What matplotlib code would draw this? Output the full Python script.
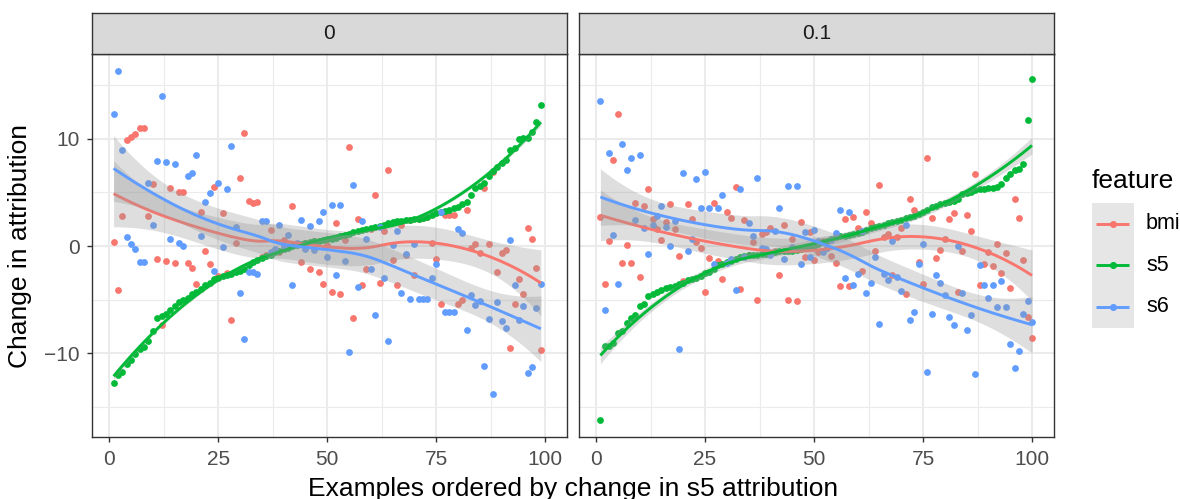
import numpy as np
import matplotlib
matplotlib.use('Agg')
import matplotlib.pyplot as plt

plt.rcParams['font.family'] = ['Liberation Sans', 'DejaVu Sans']

# ---------------- data ----------------
facet_labels = ['0', '0.1']
features = ['bmi', 's5', 's6']
feature_colors = ['#F8766D', '#00BA38', '#619CFF']
x_ticks = [0, 25, 50, 75, 100]
y_ticks = [-10, 0, 10]

x_f0 = np.arange(1, 100)
x_f1 = np.arange(1, 101)

bmi_f0 = [0.4, -4.1, 2.8, 9.9, 10.2, 10.4, 11.0, 11.0, 2.8, 5.8,
          -1.2, -7.4, -1.4, 5.4, -1.6, 5.0, 5.05, -1.6, -2.0, -3.5,
          3.2, -0.5, -1.7, 5.5, -2.8, 3.1, -2.5, -6.9, 0.3, 6.3,
          10.5, 4.2, 4.0, 4.1, -1.0, -0.8, 1.5, -0.4, -0.6, 0.6,
          0.0, 3.75, 0.2, -1.5, 0.3, -2.1, 0.5, -2.4, -3.5, 0.1,
          -4.3, 2.1, -4.5, 0.6, 9.2, -6.7, 2.5, -3.6, -2.1, 1.6,
          4.8, -3.4, 1.4, 7.1, -1.3, -3.6, 2.0, -0.8, 2.4, -2.7,
          2.5, 2.6, 2.7, 0.3, -1.2, -5.4, 2.9, 2.9, 2.9, -5.4,
          -5.0, 3.4, -0.2, 0.15, -0.65, 5.4, 0.2, 6.85, -2.4, -0.65,
          -0.4, -9.5, -5.4, -3.1, -4.5, 1.7, 0.7, -2.0, -9.7]

s5_f0 = [-12.8, -12.0, -11.7, -11.0, -10.6, -10.1, -9.6, -9.4, -8.8, -7.9,
         -6.7, -6.5, -6.3, -6.0, -5.6, -5.2, -5.0, -4.8, -4.5, -4.25,
         -4.0, -3.6, -3.4, -3.1, -3.0, -2.8, -2.7, -2.6, -2.4, -2.3,
         -2.1, -1.8, -1.5, -1.3, -1.1, -0.95, -0.8, -0.6, -0.45, -0.3,
         -0.15, 0.0, 0.1, 0.2, 0.25, 0.35, 0.45, 0.5, 0.55, 0.65,
         0.7, 0.75, 0.9, 1.0, 1.1, 1.3, 1.4, 1.5, 1.6, 1.7,
         1.8, 1.9, 2.0, 2.1, 2.2, 2.3, 2.35, 2.4, 2.45, 2.5,
         2.55, 2.6, 2.75, 2.9, 3.1, 3.2, 3.3, 3.4, 3.5, 3.6,
         3.9, 4.1, 4.8, 5.4, 5.6, 5.85, 6.5, 7.0, 7.4, 7.7,
         8.0, 8.9, 9.1, 10.0, 10.05, 10.1, 10.6, 11.6, 13.1]

s6_f0 = [12.3, 16.3, 8.9, 0.8, 0.2, -0.3, -1.5, -1.5, 5.9, 2.0,
         7.9, 14.0, 7.8, 0.7, 7.6, 0.3, 0.0, 6.5, 6.8, 8.5,
         0.9, 4.1, 4.9, -2.3, 5.9, -0.1, 5.3, 9.3, 1.8, -4.4,
         -8.7, -2.4, -2.4, -2.6, 2.3, 2.3, -0.6, -0.3, 2.0, 0.0,
         1.0, -3.6, 0.3, 2.4, -0.3, 1.9, -0.4, 2.3, 3.2, -1.0,
         3.8, -2.7, 3.8, -1.4, -9.9, 5.7, -3.8, 2.3, 0.7, -2.1,
         -6.4, 1.8, -3.0, -8.8, 0.1, 1.4, -4.4, -0.7, -4.9, 0.2,
         -4.9, -4.9, -4.9, -3.0, -1.7, 3.2, -6.1, -6.1, -6.1, 1.6,
         1.2, -7.8, -4.6, -5.5, -5.1, -11.2, -6.8, -13.8, -5.2, -7.0,
         -7.6, 0.6, -3.6, -6.9, -5.6, -11.8, -11.3, -5.8, -3.5]

bmi_f1 = [2.7, -3.5, 0.5, 8.0, 12.3, -1.6, 0.06, -1.6, 4.0, -2.9,
          3.75, 5.3, 2.5, 1.6, 0.6, 2.2, 3.9, 1.55, -0.9, -3.3,
          3.9, 2.5, 0.4, -0.2, -4.3, -1.15, 4.0, -1.4, -3.1, 3.2,
          2.6, 5.5, -4.0, 2.4, -0.8, 0.35, -5.0, 1.1, 1.35, 1.7,
          -0.5, -2.7, 2.0, -5.0, 0.65, -5.1, 2.2, -1.0, 1.3, -1.3,
          -0.6, 0.5, -0.2, -0.9, -1.6, -3.75, 2.5, -3.75, 2.75, 1.7,
          -2.3, 3.2, 2.1, -0.5, 5.65, 0.8, 1.15, -2.7, 0.8, 1.7,
          -4.5, 4.4, 3.35, -1.45, -3.5, 8.2, 2.6, -1.1, -0.4, 0.65,
          2.5, 3.1, -4.3, -0.5, 2.9, 1.4, 6.7, -3.6, -1.7, -0.6,
          -1.9, 0.15, -2.5, -0.65, -3.9, 4.4, 2.6, -1.3, -6.6, -8.6]

s5_f1 = [-16.2, -9.35, -9.3, -9.05, -8.1, -7.9, -7.2, -6.7, -6.4, -5.55,
         -5.4, -4.7, -4.5, -4.3, -4.1, -3.9, -3.8, -3.7, -3.55, -3.4,
         -3.2, -3.1, -2.95, -2.75, -2.55, -2.4, -2.1, -1.8, -1.65, -1.5,
         -1.35, -1.2, -1.0, -0.9, -0.85, -0.8, -0.8, -0.75, -0.75, -0.7,
         -0.6, -0.5, -0.48, -0.45, -0.42, -0.4, -0.3, -0.2, -0.1, 0.0,
         0.15, 0.35, 0.5, 0.65, 0.8, 0.9, 0.95, 1.05, 1.15, 1.2,
         1.35, 1.5, 1.65, 1.8, 1.9, 2.0, 2.15, 2.25, 2.35, 2.45,
         2.6, 2.7, 2.8, 2.95, 3.2, 3.4, 3.6, 3.75, 3.9, 4.0,
         4.1, 4.2, 4.35, 4.85, 4.9, 5.05, 5.2, 5.3, 5.35, 5.4,
         5.45, 5.5, 5.8, 6.3, 6.75, 7.05, 7.2, 7.6, 11.7, 15.6]

s6_f1 = [13.5, -6.0, 8.7, 1.0, -3.5, 9.5, 7.1, 8.2, 2.4, 8.5,
         1.7, -0.7, 2.0, 2.8, 3.7, 1.8, 0.0, 2.3, -9.6, 6.8,
         -0.5, 0.7, 6.2, 3.5, 6.9, 3.5, -1.7, 3.5, 4.8, -1.6,
         -1.2, -4.1, 5.3, -1.05, 2.1, 0.9, 6.3, -0.2, -0.3, -0.8,
         1.4, 3.5, -1.2, 5.6, -0.1, 5.6, -1.7, 1.3, -1.05, 1.45,
         0.5, -0.6, -0.2, 0.55, 1.2, 3.4, -3.0, 3.2, -3.6, -2.6,
         1.4, -4.4, -3.4, -1.0, -7.3, -2.6, -3.2, 0.5, -2.9, -4.2,
         1.95, -6.9, -6.1, -1.7, 0.2, -11.7, -6.3, -2.7, -3.4, -4.6,
         -6.6, -7.35, 0.0, -4.4, -7.8, -6.45, -11.9, -1.8, -3.6, -4.8,
         -3.6, -5.7, -3.3, -5.7, -9.15, -11.4, -9.8, -6.3, -5.15, -7.1]

panels = [
    (x_f0, [bmi_f0, s5_f0, s6_f0]),
    (x_f1, [bmi_f1, s5_f1, s6_f1]),
]


# ---------------- loess (span 0.75, degree 2) with standard errors ----------------
def loess_fit(x, y, xs, span=0.75):
    x = np.asarray(x, float)
    y = np.asarray(y, float)
    n = len(x)
    q = int(np.floor(n * span))

    def rows(points):
        out = np.zeros((len(points), n))
        for i, x0 in enumerate(points):
            d = np.abs(x - x0)
            h = np.sort(d)[q - 1] * 1.0000001
            w = np.clip(1 - (d / h) ** 3, 0, None) ** 3
            X = np.column_stack([np.ones(n), x - x0, (x - x0) ** 2])
            XtW = X.T * w
            A = XtW @ X
            out[i] = np.linalg.solve(A, XtW)[0]
        return out

    L = rows(x)
    Lp = rows(xs)
    resid = y - L @ y
    IL = np.eye(n) - L
    one_delta = np.trace(IL.T @ IL)
    sigma = np.sqrt(np.sum(resid ** 2) / one_delta)
    fit = Lp @ y
    se = sigma * np.sqrt(np.sum(Lp ** 2, axis=1))
    tq = 1.98
    return fit, fit - tq * se, fit + tq * se


# ---------------- layout ----------------
W, H = 1180, 499
fig = plt.figure(figsize=(W / 100, H / 100), dpi=100)


def rect(x0, y0, x1, y1):
    return [x0 / W, 1 - y1 / H, (x1 - x0) / W, (y1 - y0) / H]


panel_px = [(92, 53.6, 566.8, 437.4), (578.8, 53.6, 1053.6, 437.4)]
strip_top = 13

all_vals = np.concatenate([np.asarray(v, float) for _, ser in panels for v in ser])
all_x = np.concatenate([p[0] for p in panels])
xmin, xmax = all_x.min(), all_x.max()
ymin, ymax = all_vals.min(), all_vals.max()
xlim = (xmin - 0.05 * (xmax - xmin), xmax + 0.05 * (xmax - xmin))
ylim = (ymin - 0.05 * (ymax - ymin), ymax + 0.05 * (ymax - ymin))

grid_major = '#EBEBEB'
dark = '#333333'
ribbon_color = '#999999'
ribbon_alpha = 0.32

for pi, (xv, series) in enumerate(panels):
    x0, y0, x1, y1 = panel_px[pi]
    ax = fig.add_axes(rect(x0, y0, x1, y1))
    ax.set_xlim(*xlim)
    ax.set_ylim(*ylim)
    ax.set_facecolor('white')

    # grid
    for gx in [12.5, 37.5, 62.5, 87.5]:
        ax.axvline(gx, color=grid_major, lw=0.8, zorder=0.5)
    for gy in [-15, -5, 5, 15]:
        ax.axhline(gy, color=grid_major, lw=0.8, zorder=0.5)
    for gx in x_ticks:
        ax.axvline(gx, color=grid_major, lw=1.5, zorder=0.6)
    for gy in y_ticks:
        ax.axhline(gy, color=grid_major, lw=1.5, zorder=0.6)

    # points
    for fi, vals in enumerate(series):
        ax.scatter(xv, vals, s=24, color=feature_colors[fi], linewidths=0, zorder=2)

    # smooths
    xs = np.linspace(xv.min(), xv.max(), 80)
    for fi, vals in enumerate(series):
        fit, lo, hi = loess_fit(xv, vals, xs)
        ax.fill_between(xs, lo, hi, color=ribbon_color, alpha=ribbon_alpha,
                        linewidth=0, zorder=3 + fi)
        ax.plot(xs, fit, color=feature_colors[fi], lw=2.1, zorder=3.5 + fi,
                solid_capstyle='butt')

    for sp in ax.spines.values():
        sp.set_color(dark)
        sp.set_linewidth(1.0)
        sp.set_zorder(10)

    ax.set_xticks(x_ticks)
    ax.set_xticklabels([str(t) for t in x_ticks])
    ax.set_yticks(y_ticks)
    ax.set_yticklabels([('\u2212' + str(-t)) if t < 0 else str(t) for t in y_ticks])
    ax.tick_params(axis='both', length=3.6, width=1.0, color=dark,
                   labelsize=15, labelcolor='#4D4D4D', pad=5)
    ax.tick_params(axis='x', pad=5.5)
    if pi == 1:
        ax.tick_params(axis='y', left=False, labelleft=False)

    # strip
    sax = fig.add_axes(rect(x0, strip_top, x1, y0))
    sax.set_facecolor('#D9D9D9')
    sax.set_xticks([])
    sax.set_yticks([])
    for sp in sax.spines.values():
        sp.set_color(dark)
        sp.set_linewidth(1.0)
    sax.text(0.5, 0.5, facet_labels[pi], transform=sax.transAxes,
             ha='center', va='center', fontsize=15, color='#1A1A1A')

# axis titles
fig.text(20.5 / W, 1 - 245.5 / H, 'Change in attribution', rotation=90,
         ha='center', va='center', fontsize=19, color='black')
fig.text(573 / W, 1 - 496 / H, 'Examples ordered by change in s5 attribution',
         ha='center', va='baseline', fontsize=19, color='black')

# legend
fig.text(1091.7 / W, 1 - 188.3 / H, 'feature', ha='left', va='baseline',
         fontsize=19, color='black')
key_x0, key_y0, key_x1, key_y1 = 1091.7, 202.7, 1134, 327.7
kax = fig.add_axes(rect(key_x0, key_y0, key_x1, key_y1))
kax.set_xlim(0, 1)
kax.set_ylim(0, 3)
kax.set_facecolor('#E6E6E6')
kax.set_xticks([])
kax.set_yticks([])
for sp in kax.spines.values():
    sp.set_visible(False)
for fi, feat in enumerate(features):
    yc = 2.5 - fi
    kax.plot([0.1, 0.89], [yc, yc], color=feature_colors[fi], lw=2.1,
             solid_capstyle='butt')
    kax.scatter([0.5], [yc], s=26, color=feature_colors[fi], linewidths=0, zorder=3)
    ypx = key_y0 + (fi + 0.5) * (key_y1 - key_y0) / 3
    fig.text(1146 / W, 1 - ypx / H, feat, ha='left', va='center',
             fontsize=15.5, color='black')

fig.savefig('out.png', dpi=100)
